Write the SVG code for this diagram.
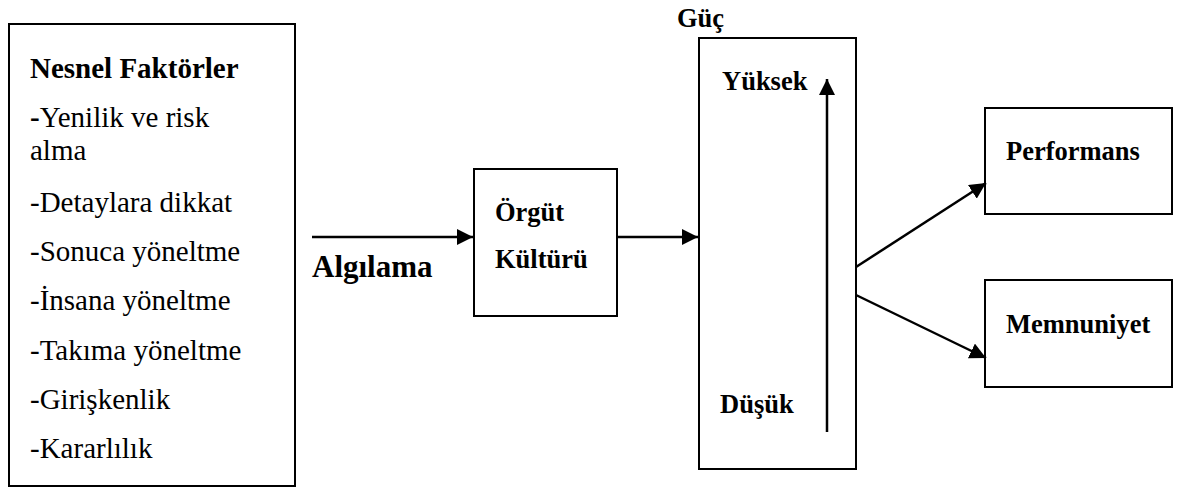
<svg xmlns="http://www.w3.org/2000/svg" width="1178" height="490" viewBox="0 0 1178 490">
<style>
.box{fill:#fff;stroke:#000;stroke-width:2}
.t{font-family:'Liberation Serif','Times New Roman',serif;fill:#000}
.r{font-size:29px}
.b{font-size:26.5px;font-weight:bold}
.conn line{stroke:#000;stroke-width:2.5}
</style>
<defs>
<marker id="ah" viewBox="0 0 10 10" refX="10" refY="5" markerWidth="6.5" markerHeight="6.5" markerUnits="strokeWidth" orient="auto">
<path d="M0,0 L10,5 L0,10 Z" fill="#000"/>
</marker>
</defs>
<rect width="1178" height="490" fill="#fff"/>
<g id="nesnel">
<rect class="box" x="9" y="24" width="286" height="462"/>
<text class="t r" x="30" y="78" font-weight="bold">Nesnel Faktörler</text>
<text class="t r" x="30" y="127"><tspan font-weight="bold">-</tspan>Yenilik ve risk</text>
<text class="t r" x="30" y="160">alma</text>
<text class="t r" x="30" y="212">-Detaylara dikkat</text>
<text class="t r" x="30" y="261">-Sonuca yöneltme</text>
<text class="t r" x="30" y="310">-İnsana yöneltme</text>
<text class="t r" x="30" y="360">-Takıma yöneltme</text>
<text class="t r" x="30" y="409">-Girişkenlik</text>
<text class="t r" x="30" y="458">-Kararlılık</text>
</g>
<g id="algilama">
<text class="t" x="312" y="277" font-size="31" font-weight="bold">Algılama</text>
</g>
<g id="orgut">
<rect class="box" x="474" y="169" width="143" height="147"/>
<text class="t b" x="495" y="221">Örgüt</text>
<text class="t b" x="495" y="268">Kültürü</text>
</g>
<g id="guc">
<text class="t b" x="677" y="27">Güç</text>
<rect class="box" x="699" y="38" width="157" height="431"/>
<text class="t b" x="722" y="90">Yüksek</text>
<text class="t b" x="720" y="413">Düşük</text>
</g>
<g id="performans">
<rect class="box" x="985" y="108" width="187" height="106"/>
<text class="t b" x="1006" y="160">Performans</text>
</g>
<g id="memnuniyet">
<rect class="box" x="985" y="280" width="187" height="107"/>
<text class="t b" x="1006" y="333">Memnuniyet</text>
</g>
<g class="conn" id="connectors">
<line x1="312" y1="237" x2="473" y2="237" marker-end="url(#ah)"/>
<line x1="617" y1="237" x2="698" y2="237" marker-end="url(#ah)"/>
<line x1="827" y1="432" x2="827" y2="79" marker-end="url(#ah)"/>
<line x1="856" y1="267" x2="986" y2="183" marker-end="url(#ah)"/>
<line x1="856" y1="295" x2="986" y2="358" marker-end="url(#ah)"/>
</g>
</svg>
